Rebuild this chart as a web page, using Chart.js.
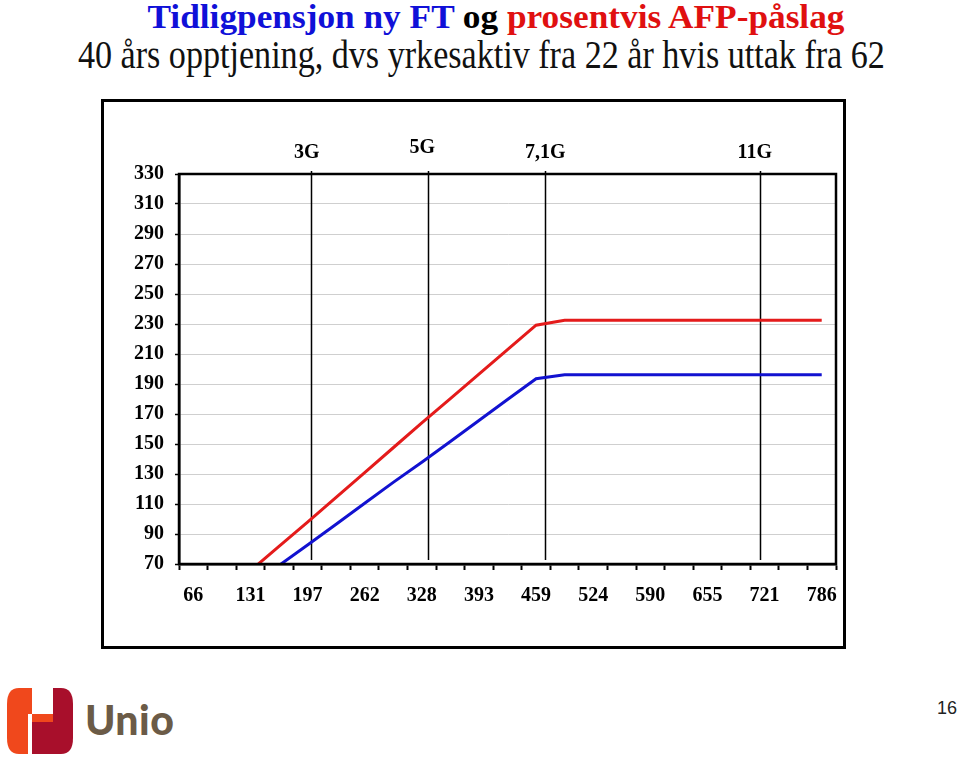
<!DOCTYPE html>
<html>
<head>
<meta charset="utf-8">
<script src="https://cdn.jsdelivr.net/npm/chart.js@4.4.1/dist/chart.umd.min.js"></script>
<style>
  html, body { margin: 0; padding: 0; background: #fff; }
  body { width: 960px; height: 760px; position: relative; overflow: hidden; font-family: "Liberation Serif", serif; }
  .t { position: absolute; left: 0; width: 960px; text-align: center; white-space: nowrap; }
  .t span.inner { display: inline-block; transform-origin: center center; }
  #t1 { top: -2px; font-size: 33px; font-weight: bold; line-height: 38px; }
  #t2 { top: 34px; font-size: 39px; line-height: 42px; color: #111; }
  #box { position: absolute; left: 101px; top: 99px; width: 745px; height: 550px; border: 3px solid #000; box-sizing: border-box; }
  #wrap { position: absolute; left: 104px; top: 102px; width: 738px; height: 543px; }
  #pg { position: absolute; left: 937px; top: 698px; font-family: "Liberation Sans", sans-serif; font-size: 18px; color: #222; }
  #unio { position: absolute; left: 85px; top: 695px; font-family: "Lato", "Noto Sans", sans-serif; font-weight: 900; font-size: 41px; color: #6b5b47; letter-spacing: 0.5px; }
  #logo { position: absolute; left: 7px; top: 688px; }
</style>
</head>
<body>
<div class="t" id="t1"><span class="inner" id="t1i"><span style="color:#1010d8">Tidligpensjon ny FT</span> <span style="color:#000">og</span> <span style="color:#e01010">prosentvis AFP-påslag</span></span></div>
<div class="t" id="t2"><span class="inner" id="t2i">40 års opptjening, dvs yrkesaktiv fra 22 år hvis uttak fra 62</span></div>
<div id="box"></div>
<div id="wrap"><canvas id="c" width="738" height="543"></canvas></div>
<svg id="logo" width="66" height="66" viewBox="0 0 66 66">
  <path d="M12 0 H33 V66 H12 Q0 66 0 50 V16 Q0 0 12 0 Z" fill="#f0481c"/>
  <path d="M33 0 H54 Q66 0 66 16 V50 Q66 66 54 66 H33 Z" fill="#a80f2b"/>
  <rect x="25" y="0" width="21" height="26" fill="#fff"/>
  <rect x="21" y="26" width="4" height="40" fill="#fff"/>
  <rect x="25" y="26" width="21" height="8" fill="#f0481c"/>
  <rect x="25" y="34" width="21" height="32" fill="#a80f2b"/>
</svg>
<div id="unio">Unio</div>
<div id="pg">16</div>
<script>
// Categories: income in thousand NOK, steps of 0.5G (1G .. 12G)
const categories = ['66','98','131','164','197','229','262','295','328','360','393','426','459','491','524','557','590','622','655','688','721','754','786'];
// Red: prosentvis AFP-påslag (tidligpensjon inkl. AFP)
const redSeries = [null, null, 65.5, 81.7, 97.9, 114.4, 130.9, 147.5, 164.1, 180.3, 196.6, 212.9, 229.2, 232.5, 232.5, 232.5, 232.5, 232.5, 232.5, 232.5, 232.5, 232.5, 232.5];
// Blue: tidligpensjon ny FT
const blueSeries = [null, null, null, 69.0, 82.7, 96.5, 110.5, 124.4, 137.8, 151.7, 165.7, 179.7, 193.5, 196.1, 196.1, 196.1, 196.1, 196.1, 196.1, 196.1, 196.1, 196.1, 196.1];
// Y axis range / ticks
const yMin = 70, yMax = 330, yStep = 20;
// Vertical reference lines (labels and position in category units)
const gLabels = ['3G', '5G', '7,1G', '11G'];
const gPositions = [4.11, 8.23, 12.32, 19.83];
const gLabelDy = [0, -5, 0, 0];
const gLabelDx = [-4, -6, 0, -5];

function fitTitle(id, target, dx) {
  const el = document.getElementById(id);
  const w = el.getBoundingClientRect().width;
  el.style.transform = 'translateX(' + dx + 'px) scaleX(' + (target / w) + ')';
}
fitTitle('t1i', 697, 16);
fitTitle('t2i', 807, 1);

const serif = '"Liberation Serif", "Times New Roman", serif';

const gLinesPlugin = {
  id: 'gLines',
  beforeDatasetsDraw(chart) {
    const ctx = chart.ctx, xs = chart.scales.x, a = chart.chartArea;
    ctx.save();
    ctx.strokeStyle = '#000';
    ctx.lineWidth = 1.5;
    gPositions.forEach((p) => {
      const x = Math.round(xs.getPixelForValue(p)) + 0.5;
      ctx.beginPath();
      ctx.moveTo(x, a.top - 3);
      ctx.lineTo(x, a.bottom - 4);
      ctx.stroke();
    });
    ctx.restore();
  },
  afterDraw(chart) {
    const ctx = chart.ctx, xs = chart.scales.x, a = chart.chartArea;
    ctx.save();
    ctx.strokeStyle = '#000';
    ctx.lineWidth = 2.5;
    ctx.strokeRect(a.left, a.top, a.right - a.left, a.bottom - a.top);
    ctx.fillStyle = '#000';
    ctx.font = 'bold 20px ' + serif;
    ctx.textAlign = 'center';
    ctx.textBaseline = 'middle';
    gPositions.forEach((p, i) => {
      const x = xs.getPixelForValue(p);
      ctx.fillText(gLabels[i], x + gLabelDx[i], a.top - 21 + gLabelDy[i]);
    });
    ctx.restore();
  }
};

new Chart(document.getElementById('c'), {
  type: 'line',
  data: {
    labels: categories,
    datasets: [
      { label: 'AFP-påslag', data: redSeries, borderColor: '#e41b1b', borderWidth: 3, pointRadius: 0, tension: 0, fill: false },
      { label: 'Ny FT', data: blueSeries, borderColor: '#1212d0', borderWidth: 3, pointRadius: 0, tension: 0, fill: false }
    ]
  },
  options: {
    responsive: false,
    animation: false,
    events: [],
    layout: { padding: { top: 72, right: 6, left: 0, bottom: 0 } },
    plugins: { legend: { display: false }, title: { display: false }, tooltip: { enabled: false } },
    scales: {
      x: {
        type: 'category',
        offset: true,
        afterFit(s) { s.height = 81; s.paddingLeft = 0; s.paddingRight = 0; },
        grid: { display: true, drawOnChartArea: false, drawTicks: true, tickLength: 6, tickColor: '#000', tickWidth: 2, offset: true },
        border: { display: true, color: '#000', width: 2.5 },
        ticks: {
          autoSkip: false, maxRotation: 0, minRotation: 0, padding: 14,
          color: '#000', font: { family: serif, size: 20, weight: 'bold' },
          callback(v, i) { return i % 2 === 0 ? categories[i] : ''; }
        }
      },
      y: {
        min: yMin, max: yMax,
        afterFit(s) { s.width = 75; },
        grid: { color: '#cfcfcf', lineWidth: 1, tickLength: 4, tickColor: '#000', tickWidth: 1.5 },
        border: { display: true, color: '#000', width: 2.5 },
        ticks: {
          stepSize: yStep, padding: 11, color: '#000',
          font: { family: serif, size: 20, weight: 'bold' }
        }
      }
    }
  },
  plugins: [gLinesPlugin]
});
</script>
</body>
</html>
